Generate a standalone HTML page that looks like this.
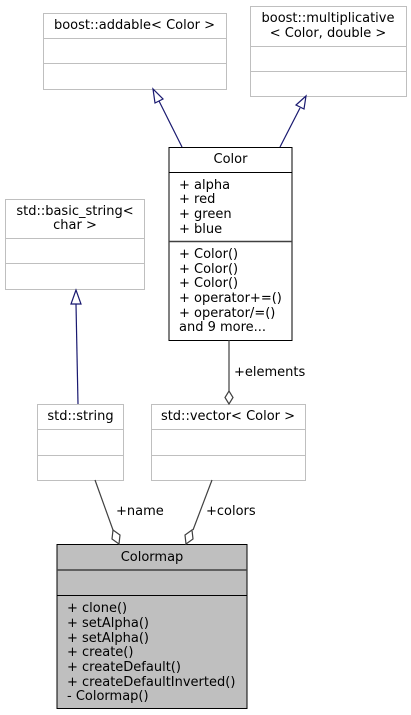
<!DOCTYPE html>
<html><head><meta charset="utf-8"><style>
html,body{margin:0;padding:0;background:#fff;width:411px;height:715px;overflow:hidden}
svg text{font-family:"DejaVu Sans","Liberation Sans",sans-serif;font-size:13px;fill:#000}
</style></head><body>
<svg width="411" height="715" viewBox="0 0 411 715" xmlns="http://www.w3.org/2000/svg">
<g fill="#fff" stroke="#bfbfbf" stroke-width="1">
<rect x="43.5" y="13.5" width="183" height="76"/>
<line x1="43.5" y1="38.5" x2="226.5" y2="38.5"/><line x1="43.5" y1="63.5" x2="226.5" y2="63.5"/>
<rect x="250.5" y="6.5" width="156" height="90"/>
<line x1="250.5" y1="46.5" x2="406.5" y2="46.5"/><line x1="250.5" y1="71.5" x2="406.5" y2="71.5"/>
<rect x="5.5" y="199.5" width="139" height="90"/>
<line x1="5.5" y1="238.5" x2="144.5" y2="238.5"/><line x1="5.5" y1="263.5" x2="144.5" y2="263.5"/>
<rect x="37.5" y="404.5" width="86" height="76"/>
<line x1="37.5" y1="429.5" x2="123.5" y2="429.5"/><line x1="37.5" y1="455.5" x2="123.5" y2="455.5"/>
<rect x="151.5" y="404.5" width="154" height="76"/>
<line x1="151.5" y1="429.5" x2="305.5" y2="429.5"/><line x1="151.5" y1="455.5" x2="305.5" y2="455.5"/>
</g>
<g fill="#fff" stroke="#000" stroke-width="1">
<rect x="169" y="147.5" width="123" height="193"/>
<line x1="169" y1="172.5" x2="292" y2="172.5"/>
<line x1="169" y1="241.5" x2="292" y2="241.5" stroke="#404040" stroke-width="1.5"/>
</g>
<g fill="#bfbfbf" stroke="#000" stroke-width="1">
<rect x="57" y="544.5" width="190" height="164"/>
<line x1="57" y1="570" x2="247" y2="570" stroke="#404040" stroke-width="1.5"/>
<line x1="57" y1="595.5" x2="247" y2="595.5"/>
</g>
<g stroke="#191970" stroke-width="1.2" fill="#fff">
<line x1="182" y1="147" x2="159" y2="101"/>
<polygon points="153,89 155,103 163,99"/>
<line x1="280" y1="147" x2="300" y2="108"/>
<polygon points="306,96 296,105 304,109"/>
<line x1="78" y1="404" x2="76" y2="304"/>
<polygon points="76,290 71,304 81,304"/>
</g>
<g stroke="#404040" stroke-width="1.2" fill="#fff">
<line x1="229" y1="340" x2="229" y2="391"/>
<polygon points="229,404 225,397.5 229,391 233,397.5"/>
<line x1="95" y1="480" x2="113" y2="530"/>
<polygon points="119,544 112,539 113,530 120,535"/>
<line x1="212" y1="480" x2="193" y2="530"/>
<polygon points="186,544 185,535 192,530 193,539"/>
</g>
<g text-anchor="middle">
<text x="134.5" y="29">boost::addable&lt; Color &gt;</text>
<text x="328" y="22">boost::multiplicative</text>
<text x="328" y="37">&lt; Color, double &gt;</text>
<text x="75" y="215">std::basic_string&lt;</text>
<text x="75" y="229">char &gt;</text>
<text x="230.5" y="163">Color</text>
<text x="80.5" y="420">std::string</text>
<text x="228" y="420">std::vector&lt; Color &gt;</text>
<text x="152" y="561">Colormap</text>
</g>
<text x="179" y="189">+ alpha</text>
<text x="179" y="203">+ red</text>
<text x="179" y="218">+ green</text>
<text x="179" y="233">+ blue</text>
<text x="179" y="258">+ Color()</text>
<text x="179" y="273">+ Color()</text>
<text x="179" y="287">+ Color()</text>
<text x="179" y="302">+ operator+=()</text>
<text x="179" y="317">+ operator/=()</text>
<text x="179" y="331">and 9 more...</text>
<text x="67" y="612">+ clone()</text>
<text x="67" y="627">+ setAlpha()</text>
<text x="67" y="642">+ setAlpha()</text>
<text x="67" y="656">+ create()</text>
<text x="67" y="671">+ createDefault()</text>
<text x="67" y="686">+ createDefaultInverted()</text>
<text x="67" y="700">- Colormap()</text>
<text x="234" y="376">+elements</text>
<text x="116" y="515">+name</text>
<text x="206" y="515">+colors</text>
</svg>
</body></html>
